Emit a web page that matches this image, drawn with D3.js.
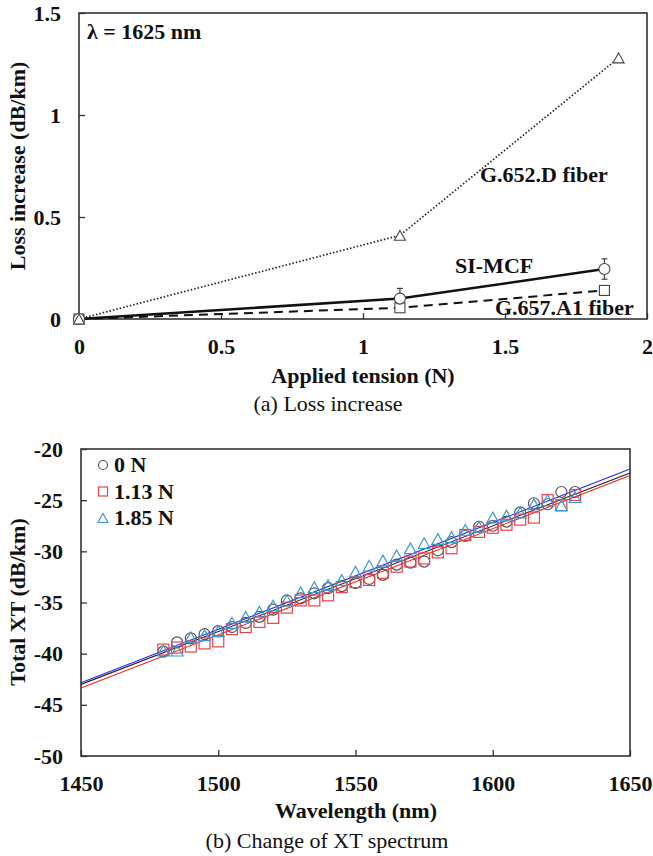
<!DOCTYPE html>
<html>
<head>
<meta charset="utf-8">
<script src="https://cdn.jsdelivr.net/npm/d3@7"></script>
<style>
  body { margin: 0; background: #fff; }
</style>
</head>
<body>
<div id="chart"></div>
<script>
const serif = "'Liberation Serif', 'Times New Roman', serif";

// (a) loss increase vs applied tension
const tensionG652 = [0, 1.13, 1.9];
const lossG652 = [0, 0.41, 1.28];
const tensionMCF = [0, 1.13, 1.85];
const lossMCF = [0, 0.10, 0.245];
const errMCF = [0, 0.05, 0.05];
const tensionG657 = [0, 1.13, 1.85];
const lossG657 = [0, 0.055, 0.14];
const lossXTicks = [0, 0.5, 1, 1.5, 2];
const lossYTicks = [0, 0.5, 1, 1.5];

// (b) XT spectrum
const wavelengths = [1480, 1485, 1490, 1495, 1500, 1505, 1510, 1515, 1520, 1525, 1530,
  1535, 1540, 1545, 1550, 1555, 1560, 1565, 1570, 1575, 1580, 1585, 1590, 1595, 1600,
  1605, 1610, 1615, 1620, 1625, 1630];
const xt0N = [-39.8, -38.9, -38.5, -38.1, -37.8, -37.4, -37.0, -36.4, -35.7, -34.8, -34.6,
  -34.1, -33.6, -33.4, -33.1, -32.7, -32.3, -31.3, -31.1, -31.0, -29.9, -29.1, -28.5, -27.6, -27.5,
  -27.1, -26.2, -25.3, -25.4, -24.2, -24.2];
const xt113N = [-39.6, -39.4, -39.3, -39.0, -38.8, -37.6, -37.4, -36.9, -36.5, -35.5, -34.8,
  -34.8, -34.3, -33.5, -33.0, -32.8, -32.1, -31.5, -31.0, -30.7, -30.1, -29.7, -28.4, -28.1, -27.7,
  -27.4, -26.9, -26.7, -25.0, -25.5, -24.5];
const xt185N = [-39.7, -39.7, -38.4, -38.2, -37.8, -37.0, -36.4, -35.9, -35.3, -34.8, -34.0,
  -33.5, -33.3, -32.8, -32.0, -31.4, -30.9, -30.4, -29.7, -29.2, -28.8, -28.6, -27.9, -27.6, -26.7,
  -26.5, -26.2, -25.4, -25.0, -25.5, -24.7];
// linear fit end points at 1450 and 1650 nm
const fitX = [1450, 1650];
const fit0N = [-43.0, -22.35];
const fit113N = [-43.35, -22.6];
const fit185N = [-42.85, -21.95];
const xtXTicks = [1450, 1500, 1550, 1600, 1650];
const xtYTicks = [-50, -45, -40, -35, -30, -25, -20];

const W = 653, H = 856;
const svg = d3.select('#chart').append('svg')
  .attr('width', W)
  .attr('height', H);

const axisColor = '#333';
const tickFont = 22;

function drawFrame(g, x, y, xTicks, yTicks, fmt) {
  const [x0, x1] = x.range();
  const [y0, y1] = y.range();

  g.append('g')
    .attr('transform', `translate(0,${y0})`)
    .call(d3.axisBottom(x).tickValues(xTicks).tickSize(-6).tickSizeOuter(0).tickPadding(19).tickFormat(fmt))
    .call(a => a.select('.domain').remove())
    .call(a => a.selectAll('line').attr('stroke', axisColor).attr('stroke-width', 1.3))
    .call(a => a.selectAll('text')
      .style('font-family', serif)
      .attr('font-size', tickFont).attr('font-weight', 'bold').attr('fill', '#111'));

  g.append('g')
    .attr('transform', `translate(${x0},0)`)
    .call(d3.axisLeft(y).tickValues(yTicks).tickSize(-6).tickSizeOuter(0).tickPadding(18).tickFormat(fmt))
    .call(a => a.select('.domain').remove())
    .call(a => a.selectAll('line').attr('stroke', axisColor).attr('stroke-width', 1.3))
    .call(a => a.selectAll('text')
      .style('font-family', serif)
      .attr('font-size', tickFont).attr('font-weight', 'bold').attr('fill', '#111'));

  g.append('rect')
    .attr('x', x0)
    .attr('y', y1)
    .attr('width', x1 - x0)
    .attr('height', y0 - y1)
    .attr('fill', 'none')
    .attr('stroke', axisColor)
    .attr('stroke-width', 1.6);
}

function triPath(cx, cy, s) {
  const h = s * 0.9;
  return `M${cx},${cy - h / 2}L${cx + s / 2},${cy + h / 2}L${cx - s / 2},${cy + h / 2}Z`;
}

// plain hyphen minus like the original
const plain = d => String(d);

// ---------- (a) ----------
const ga = svg.append('g');
const xa = d3.scaleLinear().domain([0, 2]).range([79, 647]);
const ya = d3.scaleLinear().domain([0, 1.5]).range([319, 13]);

drawFrame(ga, xa, ya, lossXTicks, lossYTicks, plain);

const lineA = d3.line().x(d => xa(d[0])).y(d => ya(d[1]));

ga.append('path')
  .datum(d3.zip(tensionG652, lossG652))
  .attr('d', lineA)
  .attr('fill', 'none')
  .attr('stroke', '#222')
  .attr('stroke-width', 1.7)
  .attr('stroke-dasharray', '1.5,2');

ga.append('path')
  .datum(d3.zip(tensionG657, lossG657))
  .attr('d', lineA)
  .attr('fill', 'none')
  .attr('stroke', '#111')
  .attr('stroke-width', 2)
  .attr('stroke-dasharray', '9,6');

ga.append('path')
  .datum(d3.zip(tensionMCF, lossMCF))
  .attr('d', lineA)
  .attr('fill', 'none')
  .attr('stroke', '#111')
  .attr('stroke-width', 2.5);

// error bars
tensionMCF.forEach((t, i) => {
  if (!errMCF[i]) return;
  const cx = xa(t);
  const yt = ya(lossMCF[i] + errMCF[i]);
  const yb = ya(lossMCF[i] - errMCF[i]);
  ga.append('line').attr('x1', cx).attr('x2', cx).attr('y1', yt).attr('y2', yb)
    .attr('stroke', '#444').attr('stroke-width', 1.2);
  ga.append('line').attr('x1', cx - 3).attr('x2', cx + 3).attr('y1', yt).attr('y2', yt)
    .attr('stroke', '#444').attr('stroke-width', 1.2);
  ga.append('line').attr('x1', cx - 3).attr('x2', cx + 3).attr('y1', yb).attr('y2', yb)
    .attr('stroke', '#444').attr('stroke-width', 1.2);
});

ga.selectAll('.sqA')
  .data(d3.zip(tensionG657, lossG657))
  .enter().append('rect')
  .attr('x', d => xa(d[0]) - 5)
  .attr('y', d => ya(d[1]) - 5)
  .attr('width', 10).attr('height', 10)
  .attr('fill', '#fff').attr('stroke', '#444').attr('stroke-width', 1.1);

ga.selectAll('.ciA')
  .data(d3.zip(tensionMCF, lossMCF))
  .enter().append('circle')
  .attr('cx', d => xa(d[0]))
  .attr('cy', d => ya(d[1]))
  .attr('r', 5.5)
  .attr('fill', '#fff').attr('stroke', '#444').attr('stroke-width', 1.1);

ga.selectAll('.trA')
  .data(d3.zip(tensionG652, lossG652))
  .enter().append('path')
  .attr('d', d => triPath(xa(d[0]), ya(d[1]), 11))
  .attr('fill', '#fff').attr('stroke', '#444').attr('stroke-width', 1.1);

const addText = (g, x, y, txt, size, anchor, bold, rotate) => g.append('text')
  .attr('transform', rotate ? `translate(${x},${y}) rotate(-90)` : null)
  .attr('x', rotate ? 0 : x).attr('y', rotate ? 0 : y)
  .style('font-family', serif)
  .attr('font-size', size).attr('font-weight', bold === false ? 'normal' : 'bold')
  .attr('text-anchor', anchor || 'start')
  .attr('fill', '#111')
  .text(txt);

addText(ga, 87, 39, 'λ = 1625 nm', 22);
addText(ga, 480, 182, 'G.652.D fiber', 22);
addText(ga, 455, 273, 'SI-MCF', 22);
addText(ga, 495, 315, 'G.657.A1 fiber', 22);
addText(ga, 363, 383, 'Applied tension (N)', 22, 'middle');
addText(ga, 25, 166, 'Loss increase (dB/km)', 22, 'middle', true, true);
addText(ga, 328, 411, '(a) Loss increase', 22, 'middle', false);

// ---------- (b) ----------
const gb = svg.append('g');
const xb = d3.scaleLinear().domain([1450, 1650]).range([81, 630]);
const yb = d3.scaleLinear().domain([-50, -20]).range([756, 449]);

drawFrame(gb, xb, yb, xtXTicks, xtYTicks, plain);

const colBlack = '#555', colRed = '#e8424c', colBlue = '#3d9ad1';

const lineB = d3.line().x(d => xb(d[0])).y(d => yb(d[1]));
[[fit0N, '#222'], [fit113N, '#ff2020'], [fit185N, '#2a2aff']].forEach(([f, c]) => {
  gb.append('path')
    .datum(d3.zip(fitX, f))
    .attr('d', lineB)
    .attr('fill', 'none')
    .attr('stroke', c)
    .attr('stroke-width', 1.1);
});

gb.selectAll('.ciB')
  .data(d3.zip(wavelengths, xt0N))
  .enter().append('circle')
  .attr('cx', d => xb(d[0]))
  .attr('cy', d => yb(d[1]))
  .attr('r', 5.5)
  .attr('fill', 'none').attr('stroke', colBlack).attr('stroke-width', 1.2);

gb.selectAll('.sqB')
  .data(d3.zip(wavelengths, xt113N))
  .enter().append('rect')
  .attr('x', d => xb(d[0]) - 5.5)
  .attr('y', d => yb(d[1]) - 5.5)
  .attr('width', 11).attr('height', 11)
  .attr('fill', 'none').attr('stroke', colRed).attr('stroke-width', 1.2);

gb.selectAll('.trB')
  .data(d3.zip(wavelengths, xt185N))
  .enter().append('path')
  .attr('d', d => triPath(xb(d[0]), yb(d[1]), 12))
  .attr('fill', 'none').attr('stroke', colBlue).attr('stroke-width', 1.2);

// legend
const legend = [
  { label: '0 N', shape: 'circle', color: colBlack },
  { label: '1.13 N', shape: 'square', color: colRed },
  { label: '1.85 N', shape: 'triangle', color: colBlue }
];
legend.forEach((d, i) => {
  const cy = 465 + i * 26.5;
  const cx = 103;
  if (d.shape === 'circle') {
    gb.append('circle').attr('cx', cx).attr('cy', cy).attr('r', 4.5)
      .attr('fill', 'none').attr('stroke', d.color).attr('stroke-width', 1.2);
  } else if (d.shape === 'square') {
    gb.append('rect').attr('x', cx - 4.5).attr('y', cy - 4.5).attr('width', 9).attr('height', 9)
      .attr('fill', 'none').attr('stroke', d.color).attr('stroke-width', 1.2);
  } else {
    gb.append('path').attr('d', triPath(cx, cy, 10))
      .attr('fill', 'none').attr('stroke', d.color).attr('stroke-width', 1.2);
  }
  addText(gb, 114, cy + 7, d.label, 22);
});

addText(gb, 356, 818, 'Wavelength (nm)', 22, 'middle');
addText(gb, 25, 602, 'Total XT (dB/km)', 22, 'middle', true, true);
addText(gb, 327, 848, '(b) Change of XT spectrum', 22, 'middle', false);
</script>
</body>
</html>
